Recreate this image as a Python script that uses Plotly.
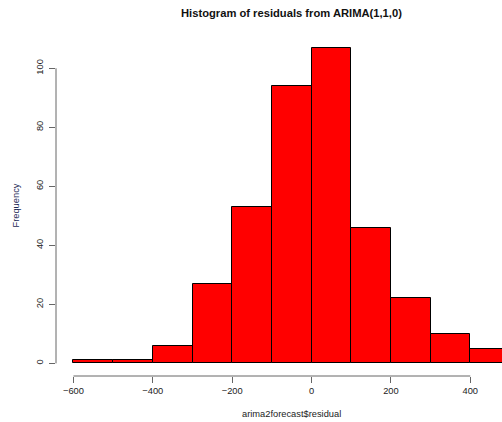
import plotly.graph_objects as go

# Histogram data
breaks = [-600, -500, -400, -300, -200, -100, 0, 100, 200, 300, 400, 500]
counts = [1, 1, 6, 27, 53, 94, 107, 46, 22, 10, 5]
x_ticks = [-600, -400, -200, 0, 200, 400]
y_ticks = [0, 20, 40, 60, 80, 100]

mids = [(breaks[i] + breaks[i + 1]) / 2 for i in range(len(counts))]
widths = [breaks[i + 1] - breaks[i] for i in range(len(counts))]

FONT = "Liberation Sans, Arial, sans-serif"
TXT = "#222222"

fig = go.Figure(go.Bar(
    x=mids, y=counts, width=widths,
    marker=dict(color="#ff0000", line=dict(color="#000000", width=1)),
    hoverinfo="x+y",
))

fig.update_layout(
    width=502, height=422,
    margin=dict(l=56, r=0, t=35, b=46, autoexpand=False),
    paper_bgcolor="white", plot_bgcolor="white",
    showlegend=False, bargap=0,
    font=dict(family=FONT, size=9.3, color=TXT),
    xaxis=dict(
        range=[-644, 480], tickvals=x_ticks, ticks="outside", ticklen=6,
        tickcolor="#666666", showgrid=False, zeroline=False, showline=False,
        tickfont=dict(size=9.3, color=TXT), automargin=False,
    ),
    yaxis=dict(
        range=[-4.28, 111.28], tickvals=y_ticks, ticks="outside", ticklen=6,
        tickcolor="#666666", showgrid=False, zeroline=False, showline=False,
        tickangle=-90, tickfont=dict(size=9.3, color=TXT), automargin=False,
        ticklabelstandoff=2,
    ),
    shapes=[
        dict(type="line", xref="x", yref="paper", x0=x_ticks[0], x1=x_ticks[-1],
             y0=0, y1=0, line=dict(color="#666666", width=1)),
        dict(type="line", xref="paper", yref="y", x0=0, x1=0,
             y0=y_ticks[0], y1=y_ticks[-1], line=dict(color="#666666", width=1)),
    ],
    annotations=[
        dict(text="<b>Histogram of residuals from ARIMA(1,1,0)</b>", xref="paper", yref="paper",
             x=0.527, y=1.0645, showarrow=False, xanchor="center", yanchor="middle",
             font=dict(size=11.2, color="#111111")),
        dict(text="arima2forecast$residual", xref="paper", yref="paper",
             x=0.527, y=-0.111, showarrow=False, xanchor="center", yanchor="middle",
             font=dict(size=9.3, color=TXT)),
        dict(text="Frequency", xref="paper", yref="paper",
             x=-0.0897, y=0.5, showarrow=False, xanchor="center", yanchor="middle",
             textangle=-90, font=dict(size=9.3, color="#1c2a55")),
    ],
)

fig.write_html(
    "out.html",
    config={"displayModeBar": False},
    post_script="document.body.style.margin='0px';document.body.style.overflow='hidden';",
)
